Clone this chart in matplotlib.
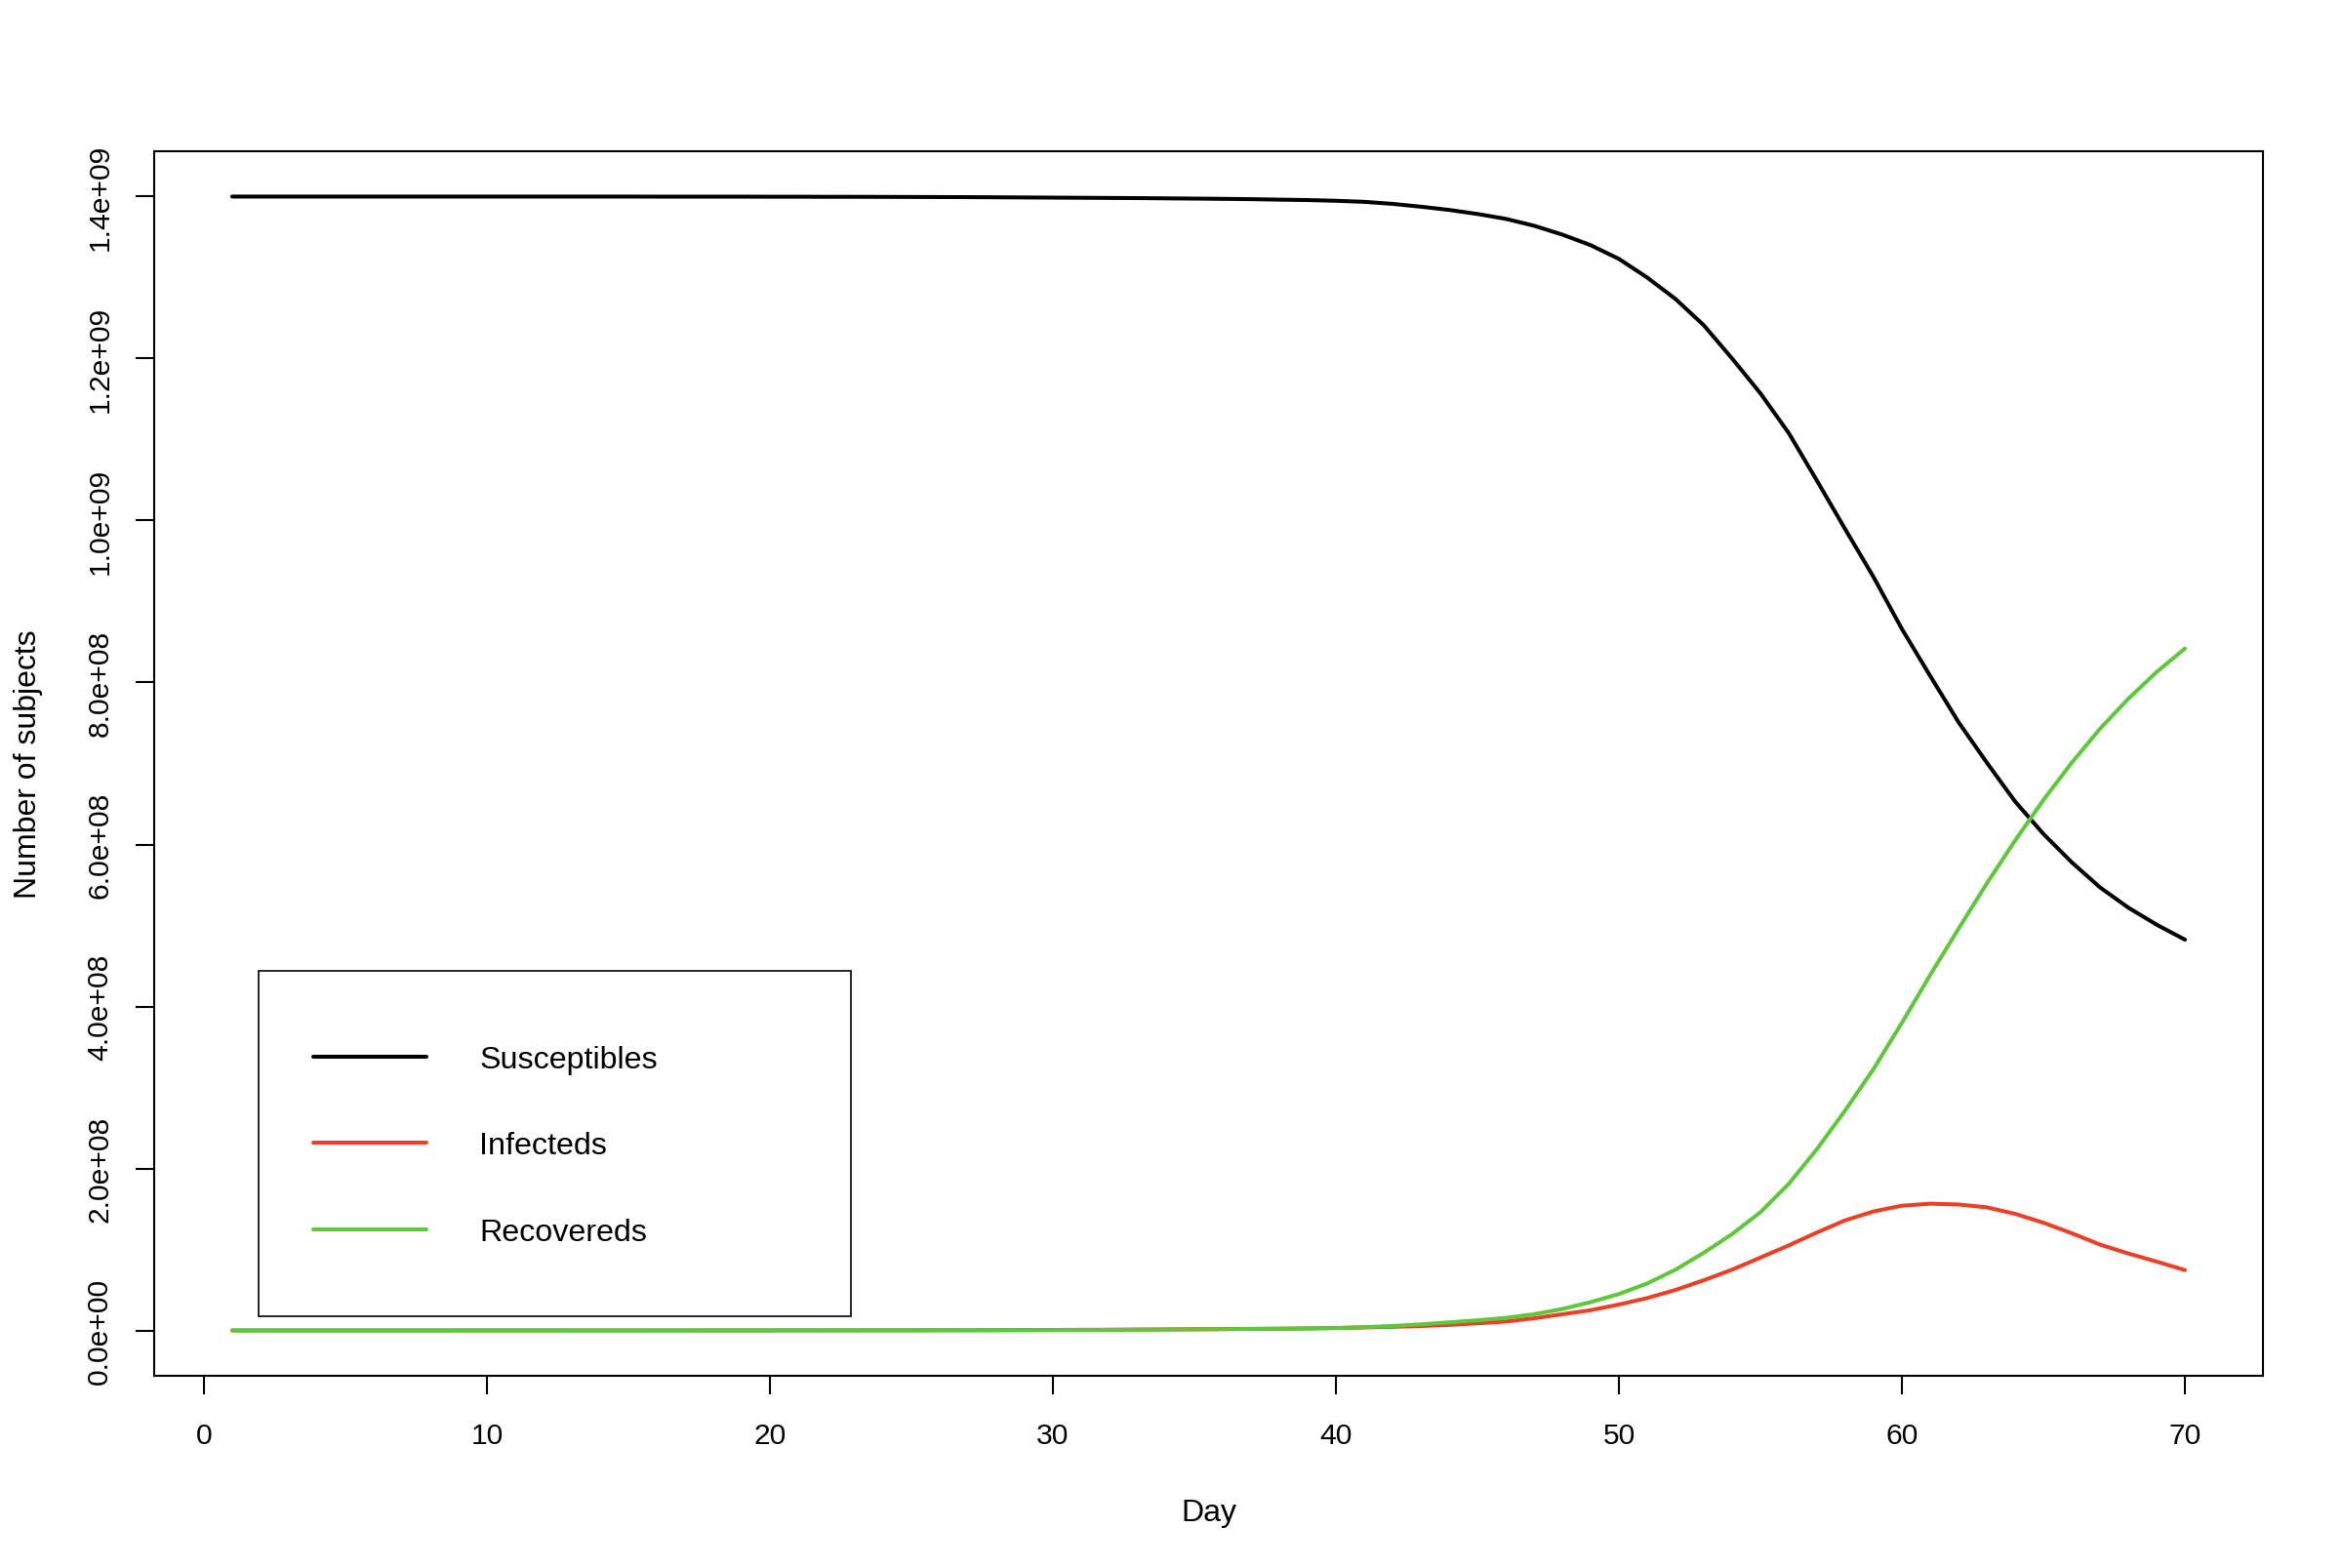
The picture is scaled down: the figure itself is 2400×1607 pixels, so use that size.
import numpy as np
import matplotlib
matplotlib.use("Agg")
import matplotlib.pyplot as plt
from matplotlib.patches import Rectangle
from matplotlib.ticker import FixedLocator, FuncFormatter

plt.rcParams['font.family'] = ['Liberation Sans', 'DejaVu Sans']

# days 1..70, values in units of 1e8 subjects
days = np.arange(1, 71)

susceptibles = [
    14.000, 14.000, 14.000, 14.000, 14.000, 14.000, 14.000, 14.000, 14.000, 14.000,
    14.000, 14.000, 14.000, 14.000, 14.000, 13.999, 13.999, 13.999, 13.999, 13.998,
    13.998, 13.997, 13.997, 13.996, 13.995, 13.994, 13.993, 13.991, 13.989, 13.987,
    13.985, 13.983, 13.981, 13.978, 13.975, 13.972, 13.968, 13.962, 13.957, 13.948,
    13.935, 13.910, 13.875, 13.835, 13.785, 13.725, 13.640, 13.530, 13.400, 13.230,
    13.000, 12.735, 12.410, 12.000, 11.570, 11.080, 10.490, 9.890, 9.300, 8.660,
    8.080, 7.510, 7.010, 6.530, 6.130, 5.780, 5.470, 5.220, 5.010, 4.825,
]

infecteds = [
    0.00001, 0.00001, 0.00002, 0.00002, 0.00003, 0.00003, 0.00004, 0.00005, 0.00006, 0.00008,
    0.0001, 0.0001, 0.0002, 0.0002, 0.0002, 0.0003, 0.0004, 0.0005, 0.0006, 0.0008,
    0.001, 0.001, 0.0015, 0.002, 0.002, 0.003, 0.003, 0.004, 0.005, 0.006,
    0.008, 0.009, 0.011, 0.013, 0.015, 0.017, 0.019, 0.021, 0.024, 0.030,
    0.037, 0.045, 0.055, 0.068, 0.088, 0.110, 0.150, 0.200, 0.250, 0.320,
    0.400, 0.500, 0.620, 0.750, 0.900, 1.050, 1.210, 1.360, 1.470, 1.540,
    1.565, 1.555, 1.520, 1.440, 1.330, 1.200, 1.060, 0.950, 0.850, 0.745,
]

recovereds = [
    0.0, 0.0, 0.0, 0.0, 0.00001, 0.00001, 0.00002, 0.00002, 0.00003, 0.00004,
    0.00005, 0.00006, 0.00008, 0.0001, 0.0001, 0.0002, 0.0002, 0.0003, 0.0004, 0.0005,
    0.0006, 0.0008, 0.001, 0.0012, 0.0015, 0.002, 0.0025, 0.003, 0.004, 0.005,
    0.006, 0.007, 0.009, 0.011, 0.013, 0.016, 0.019, 0.022, 0.026, 0.030,
    0.040, 0.055, 0.075, 0.100, 0.125, 0.155, 0.200, 0.265, 0.350, 0.450,
    0.580, 0.750, 0.960, 1.190, 1.460, 1.810, 2.240, 2.720, 3.230, 3.800,
    4.390, 4.960, 5.520, 6.050, 6.550, 7.010, 7.430, 7.800, 8.130, 8.420,
]

series_labels = ["Susceptibles", "Infecteds", "Recovereds"]
series_colors = ["black", "#EB3F26", "#5DC83A"]
x_ticks = [0, 10, 20, 30, 40, 50, 60, 70]
y_ticks = [0, 2e8, 4e8, 6e8, 8e8, 1.0e9, 1.2e9, 1.4e9]

fig = plt.figure(figsize=(12, 8.04), dpi=200)
ax = fig.add_axes([0.0658, 0.1225, 0.9005, 0.7805])

lines = []
for vals, lab, col in zip([susceptibles, infecteds, recovereds], series_labels, series_colors):
    ln, = ax.plot(days, np.array(vals) * 1e8, color=col, lw=1.45,
                  solid_capstyle='round', label=lab)
    lines.append(ln)

# R style padding (4% on each side)
xr = days.max() - days.min()
ax.set_xlim(days.min() - 0.04 * xr, days.max() + 0.04 * xr)
ymax = max(susceptibles) * 1e8
ax.set_ylim(-0.04 * ymax, ymax * 1.04)

ax.xaxis.set_major_locator(FixedLocator(x_ticks))
ax.yaxis.set_major_locator(FixedLocator(y_ticks))
ax.yaxis.set_major_formatter(FuncFormatter(lambda v, p: "%.1e" % v))
ax.tick_params(direction='out', length=7, width=0.75, labelsize=10.8, pad=10)
ax.tick_params(axis='y', pad=8)
for lab in ax.get_yticklabels():
    lab.set_rotation(90)
    lab.set_va('center')
for sp in ax.spines.values():
    sp.set_linewidth(0.75)

ax.set_xlabel("Day", fontsize=11.5, labelpad=18)
ax.set_ylabel("Number of subjects", fontsize=11.5, labelpad=16)

# legend box like R's legend()
ax.add_patch(Rectangle((0.0495, 0.0486), 0.2809, 0.2821, transform=ax.transAxes,
                       fill=False, lw=0.6, ec='black', zorder=5))
ax.legend(handles=lines, loc='upper left', bbox_to_anchor=(0.0755, 0.27),
          frameon=False, fontsize=11.6, handlelength=3.6, handletextpad=1.68,
          labelspacing=1.81, borderpad=0, borderaxespad=0)

fig.savefig("out.png", dpi=200)
